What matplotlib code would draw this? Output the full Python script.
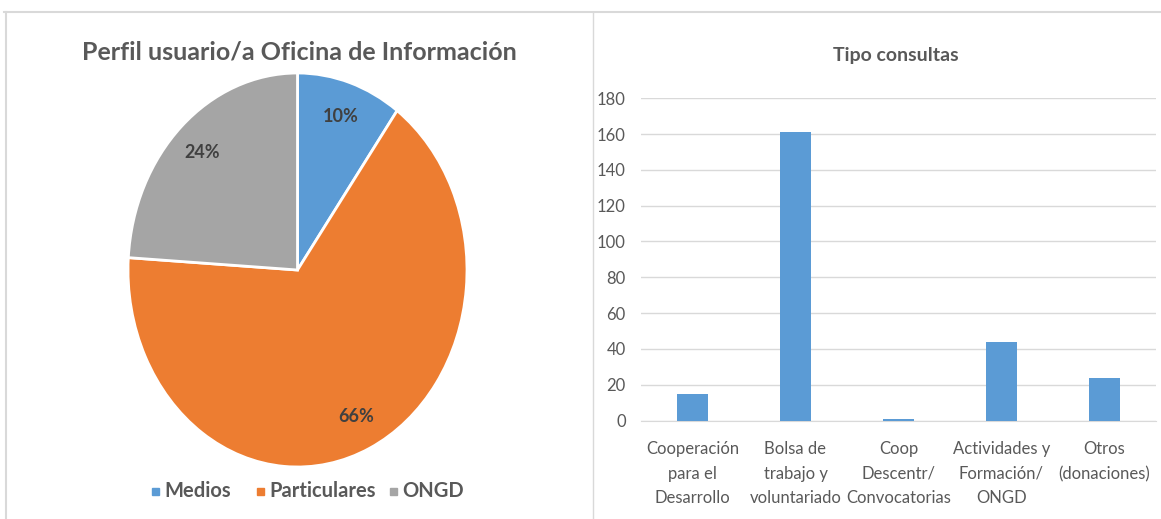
import matplotlib
matplotlib.use("Agg")
from matplotlib import pyplot as plt
from matplotlib.patches import Rectangle
from matplotlib.lines import Line2D

# pie data
pie_labels = ["Medios", "Particulares", "ONGD"]
pie_values = [10, 66, 24]
pie_colors = ["#5B9BD5", "#ED7D31", "#A5A5A5"]

# bar data
bar_cats = ["Cooperación\npara el\nDesarrollo", "Bolsa de\ntrabajo y\nvoluntariado",
            "Coop\nDescentr/\nConvocatorias", "Actividades y\nFormación/\nONGD",
            "Otros\n(donaciones)"]
bar_values = [15, 161, 1, 44, 24]
y_ticks = [0, 20, 40, 60, 80, 100, 120, 140, 160, 180]

txt = "#595959"
fam = ["Lato", "DejaVu Sans"]
plt.rcParams["font.family"] = fam

W, H = 1161, 519
fig = plt.figure(figsize=(W / 100, H / 100), dpi=100)

def fx(px):
    return px / W

def fy(py):
    return 1 - py / H

# frame lines
fig.add_artist(Line2D([fx(4), fx(1161)], [fy(12), fy(12)], color="#D9D9D9", lw=1.5))
fig.add_artist(Line2D([fx(6), fx(6)], [fy(12), fy(519)], color="#D9D9D9", lw=1.5))
fig.add_artist(Line2D([fx(593), fx(593)], [fy(12), fy(519)], color="#D9D9D9", lw=1.0))

# ---- pie
ax1 = fig.add_axes([fx(128), fy(467), fx(467) - fx(128), fy(73) - fy(467)])
wedges, texts, autotexts = ax1.pie(
    pie_values, colors=pie_colors, startangle=90, counterclock=False,
    autopct="%d%%", pctdistance=0.82,
    wedgeprops=dict(edgecolor="white", linewidth=2),
    textprops=dict(color="#404040", fontsize=13, fontweight="bold", family=fam))
ax1.set_aspect("auto")
ax1.set_xlim(-1, 1)
ax1.set_ylim(-1, 1)
fig.text(fx(299), fy(52), "Perfil usuario/a Oficina de Información", ha="center", va="center",
         fontsize=18, color=txt, fontweight="bold")

# legend
leg_x = [152, 257, 390]
for x0, lab, c in zip(leg_x, pie_labels, pie_colors):
    fig.add_artist(Rectangle((fx(x0), fy(495)), fx(7), 7 / H, color=c, transform=fig.transFigure))
    fig.text(fx(x0 + 12), fy(491), lab, ha="left", va="center", fontsize=14.5,
             color=txt, fontweight="bold")

# ---- bars
ax2 = fig.add_axes([fx(641), fy(420.5), fx(1156) - fx(641), fy(98.3) - fy(420.5)])
x = range(len(bar_cats))
ax2.bar(x, bar_values, width=0.31, color="#5B9BD5", zorder=3)
ax2.set_xlim(-0.5, len(bar_cats) - 0.5)
ax2.set_ylim(0, 180)
ax2.set_yticks(y_ticks)
ax2.grid(axis="y", color="#D9D9D9", lw=1, zorder=0)
for s in ["top", "right", "left"]:
    ax2.spines[s].set_visible(False)
ax2.spines["bottom"].set_color("#D9D9D9")
ax2.set_xticks(list(x))
ax2.set_xticklabels(bar_cats, fontsize=12, color=txt, linespacing=1.65)
ax2.tick_params(axis="x", length=0, pad=15)
ax2.tick_params(axis="y", length=0, pad=11, labelsize=12, labelcolor=txt)
fig.text(fx(896), fy(56), "Tipo consultas", ha="center", va="center",
         fontsize=14, color=txt, fontweight="bold")

fig.savefig("out.png", dpi=100)
